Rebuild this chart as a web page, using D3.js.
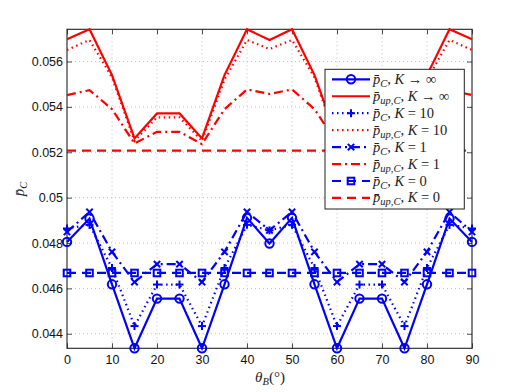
<!DOCTYPE html>
<html><head><meta charset="utf-8">
<script src="https://cdn.jsdelivr.net/npm/d3@7"></script>
<style>body{margin:0;background:#fff}svg{display:block}</style>
</head><body><svg id="c" width="522" height="392"></svg>
<script>
const theta = [0,5,10,15,20,25,30,35,40,45,50,55,60,65,70,75,80,85,90];
const pC_inf   = [0.04805,0.04908,0.04618,0.04336,0.04555,0.04555,0.04336,0.04618,0.04911,0.04798,0.04911,0.04618,0.04336,0.04555,0.04555,0.04336,0.04618,0.04908,0.04805];
const pUp_inf  = [0.05698,0.05742,0.0554,0.05261,0.05371,0.05371,0.05261,0.0554,0.05742,0.05695,0.05742,0.0554,0.05261,0.05371,0.05371,0.05261,0.0554,0.05742,0.05698];
const pC_10    = [0.04864,0.0488,0.0469,0.04434,0.04617,0.04617,0.04434,0.0469,0.0488,0.04856,0.0488,0.0469,0.04434,0.04617,0.04617,0.04434,0.0469,0.0488,0.04864];
const pUp_10   = [0.05651,0.05695,0.0553,0.0525,0.05354,0.05354,0.0525,0.0552,0.05695,0.05655,0.05695,0.0553,0.0525,0.05354,0.05354,0.0525,0.0552,0.05695,0.05651];
const pC_1     = [0.04849,0.04937,0.04761,0.04628,0.04707,0.04707,0.04628,0.04761,0.04937,0.04856,0.04937,0.04761,0.04628,0.04707,0.04707,0.04628,0.04761,0.04937,0.04849];
const pUp_1    = [0.05452,0.05474,0.0539,0.05239,0.0529,0.0529,0.05236,0.0539,0.05477,0.05457,0.05477,0.0539,0.05239,0.0529,0.0529,0.05236,0.0539,0.05474,0.05452];
const pC_0     = [0.04668,0.04668,0.04668,0.04668,0.04668,0.04668,0.04668,0.04668,0.04668,0.04668,0.04668,0.04668,0.04668,0.04668,0.04668,0.04668,0.04668,0.04668,0.04668];
const pUp_0    = [0.05207,0.05207,0.05207,0.05207,0.05207,0.05207,0.05207,0.05207,0.05207,0.05207,0.05207,0.05207,0.05207,0.05207,0.05207,0.05207,0.05207,0.05207,0.05207];
const xTicks = [0,10,20,30,40,50,60,70,80,90];
const yTicks = [0.044,0.046,0.048,0.05,0.052,0.054,0.056];
const yTickLabels = ["0.044","0.046","0.048","0.05","0.052","0.054","0.056"];
const legendMain = ["p","p","p","p","p","p","p","p"];
const legendSub = ["C","up,C","C","up,C","C","up,C","C","up,C"];
const legendK = ["K → ∞","K → ∞","K = 10","K = 10","K = 1","K = 1","K = 0","K = 0"];

const L=67,R=472,T=29.3,B=348.3;
const svg=d3.select("#c");
const x=d3.scaleLinear().domain([0,90]).range([L,R]);
const y=d3.scaleLinear().domain([0.04336,0.05742]).range([B,T]);

// grid
const g=svg.append("g");
g.selectAll(".gx").data(xTicks.slice(1,-1)).enter().append("line")
 .attr("x1",d=>x(d)).attr("x2",d=>x(d)).attr("y1",T).attr("y2",B)
 .attr("stroke","#b4b4b4").attr("stroke-width",0.8).attr("stroke-dasharray","1,3");
g.selectAll(".gy").data(yTicks).enter().append("line")
 .attr("y1",d=>y(d)).attr("y2",d=>y(d)).attr("x1",L).attr("x2",R)
 .attr("stroke","#b4b4b4").attr("stroke-width",0.8).attr("stroke-dasharray","1,3");

// axes
const font="'Liberation Sans', Arial, sans-serif";
const ax=svg.append("g").attr("transform",`translate(0,${B})`)
 .call(d3.axisBottom(x).tickValues(xTicks).tickSizeInner(-5).tickSizeOuter(0).tickPadding(7).tickFormat(d3.format("d")));
const ay=svg.append("g").attr("transform",`translate(${L},0)`)
 .call(d3.axisLeft(y).tickValues(yTicks).tickSizeInner(-5).tickSizeOuter(0).tickPadding(4).tickFormat((d,i)=>yTickLabels[i]));
const axT=svg.append("g").attr("transform",`translate(0,${T})`)
 .call(d3.axisTop(x).tickValues(xTicks).tickSizeInner(-5).tickSizeOuter(0).tickFormat(""));
const ayR=svg.append("g").attr("transform",`translate(${R},0)`)
 .call(d3.axisRight(y).tickValues(yTicks).tickSizeInner(-5).tickSizeOuter(0).tickFormat(""));
[ax,ay,axT,ayR].forEach(a=>{a.select(".domain").remove();a.selectAll("line").attr("stroke","#222").attr("stroke-width",0.8);
 a.selectAll("text").attr("font-family",font).attr("font-size",12.5).attr("fill","#111");});
svg.append("rect").attr("x",L).attr("y",T).attr("width",R-L).attr("height",B-T)
 .attr("fill","none").attr("stroke","#222").attr("stroke-width",1.1);

// series
const series=[
 {d:pC_inf,c:"#0000ff",dash:null,m:"o"},
 {d:pUp_inf,c:"#ff0000",dash:null,m:null},
 {d:pC_10,c:"#0000ff",dash:"1.5,3.5",m:"+"},
 {d:pUp_10,c:"#ff0000",dash:"1.5,3.5",m:null},
 {d:pC_1,c:"#0000ff",dash:"9,4,2,4",m:"x"},
 {d:pUp_1,c:"#ff0000",dash:"9,4,2,4",m:null},
 {d:pC_0,c:"#0000ff",dash:"9,6",m:"s"},
 {d:pUp_0,c:"#ff0000",dash:"9,6",m:null}
];
const line=d3.line().x((d,i)=>x(theta[i])).y(d=>y(d));
function marker(sel,m,cx,cy,c){
 const gg=sel.append("g").attr("stroke",c).attr("stroke-width",2).attr("fill","none");
 if(m==="o") gg.append("circle").attr("cx",cx).attr("cy",cy).attr("r",4.2);
 if(m==="+"){gg.append("line").attr("x1",cx-4).attr("x2",cx+4).attr("y1",cy).attr("y2",cy);
  gg.append("line").attr("x1",cx).attr("x2",cx).attr("y1",cy-4).attr("y2",cy+4);}
 if(m==="x"){gg.append("line").attr("x1",cx-3.2).attr("x2",cx+3.2).attr("y1",cy-3.2).attr("y2",cy+3.2);
  gg.append("line").attr("x1",cx-3.2).attr("x2",cx+3.2).attr("y1",cy+3.2).attr("y2",cy-3.2);}
 if(m==="s") gg.append("rect").attr("x",cx-3.3).attr("y",cy-3.3).attr("width",6.6).attr("height",6.6);
}
const order=[7,6,5,4,3,2,1,0];
order.forEach(k=>{
 const s=series[k];
 svg.append("path").attr("d",line(s.d)).attr("fill","none").attr("stroke",s.c)
  .attr("stroke-width",2.2).attr("stroke-dasharray",s.dash);
 if(s.m) s.d.forEach((v,i)=>marker(svg,s.m,x(theta[i]),y(v),s.c));
});

// labels
const serif="'Liberation Serif','DejaVu Serif',serif";
svg.append("text").attr("x",270).attr("y",382).attr("text-anchor","middle")
 .attr("font-family",serif).attr("font-size",15).attr("fill","#222")
 .html('<tspan font-style="italic">θ</tspan><tspan font-style="italic" font-size="10.5" dy="3">B</tspan><tspan dy="-3">(°)</tspan>');
svg.append("text").attr("transform","translate(24,189) rotate(-90)").attr("text-anchor","middle")
 .attr("font-family",serif).attr("font-size",15).attr("fill","#222")
 .html('<tspan font-style="italic">p\u0304</tspan><tspan font-style="italic" font-size="10.5" dy="3">C</tspan>');

// legend
const lg=svg.append("g");
lg.append("rect").attr("x",325).attr("y",69.3).attr("width",139.3).attr("height",139.7)
 .attr("fill","#fff").attr("stroke","#222").attr("stroke-width",1);
series.forEach((s,i)=>{
 const yy=79.3+i*16.95;
 lg.append("line").attr("x1",332).attr("x2",370).attr("y1",yy).attr("y2",yy)
  .attr("stroke",s.c).attr("stroke-width",2.2).attr("stroke-dasharray",s.dash);
 if(s.m) marker(lg,s.m,351,yy,s.c);
 lg.append("text").attr("x",373).attr("y",yy+4.5).attr("font-family",serif).attr("font-size",14.5).attr("fill","#222")
  .html(`<tspan font-style="italic">${legendMain[i]}\u0304</tspan><tspan font-style="italic" font-size="10.5" dy="3">${legendSub[i]}</tspan><tspan dy="-3">, </tspan><tspan font-style="italic">${legendK[i].split(" ")[0]}</tspan><tspan> ${legendK[i].split(" ").slice(1).join(" ")}</tspan>`);
});
</script></body></html>
